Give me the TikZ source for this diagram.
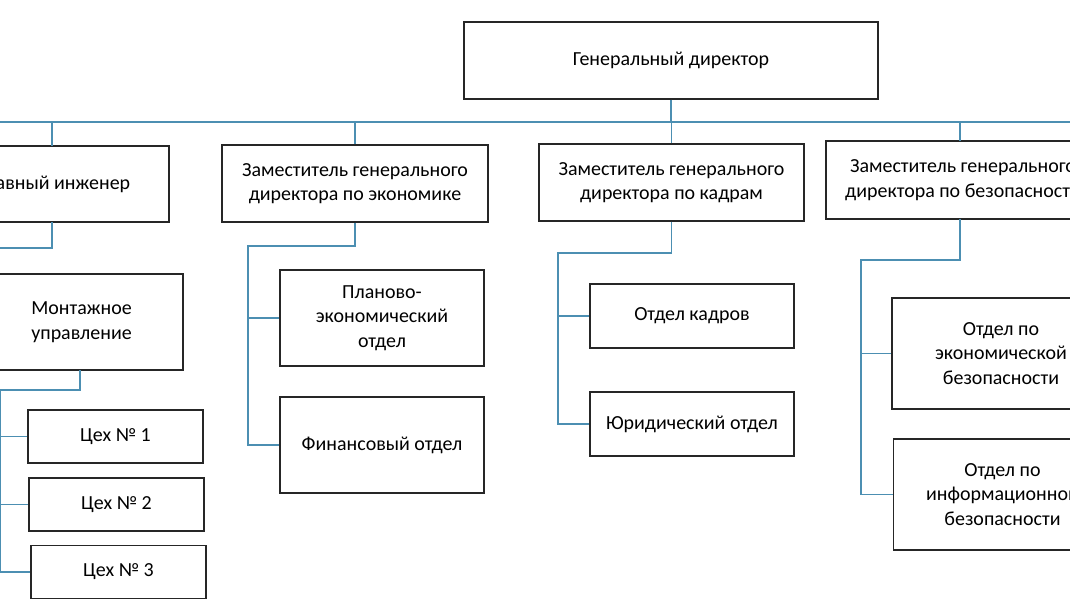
\documentclass[tikz,border=0pt]{standalone}
\usepackage{fontspec}
\setmainfont{Carlito}
\tikzset{
  unit/.style={draw=black!85, line width=0.9pt, fill=white, align=center,
    inner sep=2pt, font=\fontsize{14.2}{17.5}\selectfont},
  link/.style={draw=blue!35!cyan!40!gray, line width=1pt}
}
\begin{document}
\begin{tikzpicture}
  \useasboundingbox (0,0) rectangle (26.75,-15.05);
  \clip (0,0) rectangle (26.75,-15.05);

  \node[unit, minimum width=10.35cm, minimum height=1.925cm] (gd) at (16.775,-1.5125) {Генеральный директор};

  \node[unit, minimum width=5.725cm, minimum height=1.9cm] (chief) at (1.3625,-4.6) {Главный инженер};
  \node[unit, minimum width=6.65cm, minimum height=1.925cm] (econ) at (8.875,-4.5875) {Заместитель генерального\\директора по экономике};
  \node[unit, minimum width=6.625cm, minimum height=1.925cm] (hr) at (16.7875,-4.5625) {Заместитель генерального\\директора по кадрам};
  \node[unit, minimum width=6.85cm, minimum height=1.95cm] (sec) at (24.075,-4.5) {Заместитель генерального\\директора по безопасности};

  \node[unit, minimum width=5.075cm, minimum height=2.4cm] (mont) at (2.0375,-8.05) {Монтажное\\управление};
  \node[unit, minimum width=4.375cm, minimum height=1.325cm] (ceh1) at (2.8875,-10.9125) {Цех № 1};
  \node[unit, minimum width=4.375cm, minimum height=1.325cm] (ceh2) at (2.9125,-12.6125) {Цех № 2};
  \node[unit, minimum width=4.375cm, minimum height=1.325cm] (ceh3) at (2.9625,-14.3) {Цех № 3};

  \node[unit, minimum width=5.1cm, minimum height=2.4cm] (plano) at (9.55,-7.95) {Планово-\\экономический\\отдел};
  \node[unit, minimum width=5.1cm, minimum height=2.4cm] (fin) at (9.55,-11.125) {Финансовый отдел};

  \node[unit, minimum width=5.1cm, minimum height=1.6cm] (kadry) at (17.3,-7.9) {Отдел кадров};
  \node[unit, minimum width=5.1cm, minimum height=1.6cm] (yur) at (17.3,-10.6) {Юридический отдел};

  \node[unit, minimum width=5.45cm, minimum height=2.775cm] (ekb) at (25.025,-8.8375) {Отдел по\\экономической\\безопасности};
  \node[unit, minimum width=5.45cm, minimum height=2.775cm] (infb) at (25.0625,-12.3625) {Отдел по\\информационной\\безопасности};

  % trunk points
  \coordinate (busL) at (0,-3.05);
  \coordinate (busR) at (26.75,-3.05);
  \coordinate (chiefT) at (0,-6.2);
  \coordinate (econT) at (6.2,-6.15);
  \coordinate (hrT) at (13.95,-6.325);
  \coordinate (secT) at (21.525,-6.5);
  \coordinate (montT) at (0,-9.75);

  \begin{scope}[on background layer/.try]
  \path[link] (busL) -- (busR)
              (gd.south) -- (gd.south |- busL);
  \foreach \d in {econ,hr}
    \path[link] (\d.north) -- (\d.north |- busL);
  \path[link] (1.3,-3.05) -- (1.3,-3.65)
              (24,-3.05) -- (24,-3.53);
  \path[link] (1.3,-5.55) |- (chiefT)
              (econ.south) |- (econT) |- (fin.west)
              (econT) |- (plano.west)
              (hr.south) |- (hrT) |- (yur.west)
              (hrT) |- (kadry.west)
              (24,-5.475) |- (secT) |- (infb.west)
              (secT) |- (ekb.west)
              (2,-9.25) |- (montT) |- (ceh3.west)
              (montT) |- (ceh1.west)
              (montT) |- (ceh2.west);
  \end{scope}
\end{tikzpicture}
\end{document}
